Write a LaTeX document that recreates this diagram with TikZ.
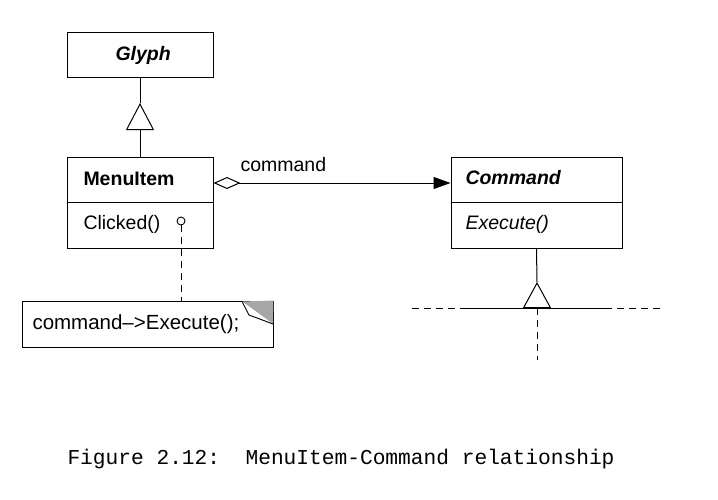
\documentclass[tikz,border=0pt]{standalone}
\usepackage{fontspec}
\setmainfont{Liberation Sans}
\newfontfamily\capfont{Liberation Mono}
\usepackage{tikz}
\usetikzlibrary{arrows.meta}
\usetikzlibrary{calc}

\begin{document}
\begin{tikzpicture}[x=1pt,y=-1pt,line width=1pt,
    classbox/.style={draw,rectangle,inner sep=0pt},
    label/.style={anchor=west,inner sep=0pt,font=\fontsize{19.5}{22}\selectfont},
    dashline/.style={dash pattern=on 7pt off 5pt}]

          \useasboundingbox (0,0) rectangle (718,499); %全体の大きさ

          \node[classbox,minimum width=146pt,minimum height=45pt] (glyph) at (140,54.5) {}; %Glyph
          \node[classbox,minimum width=146pt,minimum height=91pt] (menuitem) at (140,202.5) {}; %MenuItem
          \node[classbox,minimum width=171pt,minimum height=91pt] (command) at (536.5,202.5) {}; %Command
          \node[classbox,minimum width=251pt,minimum height=46pt] (note) at (147.5,324) {}; %注釈
          \draw (menuitem.west) -- (menuitem.east); %区切り線
          \draw (command.west) -- (command.east); %区切り線

          \node[label,font=\fontsize{19.5}{22}\selectfont\bfseries\itshape] (glyphname) at (115,55) {Glyph};
          \node[label,font=\fontsize{19.5}{22}\selectfont\bfseries] (menuname) at (83,179) {MenuItem};
          \node[label] (clicked) at (83,224) {Clicked()};
          \node[label,font=\fontsize{19.5}{22}\selectfont\bfseries\itshape] (cmdname) at (465,178) {Command};
          \node[label,font=\fontsize{19.5}{22}\selectfont\itshape] (execute) at (465,224) {Execute()};
          \node[label,font=\fontsize{20.5}{22}\selectfont] (notetext) at (32,324) {command–>Execute();};

          \coordinate (gA) at (140,103); %三角形の頂点
          \draw (glyph.south) -- (gA);
          \draw[-{Triangle[open,length=27pt,width=28pt]}] (menuitem.north) -- (gA); %継承

          \draw[{Diamond[open,length=27pt,width=12pt]}-{Triangle[length=17pt,width=12pt]}]
               ([yshift=19.5pt]menuitem.east) -- ([yshift=19.5pt]command.west); %集約
          \node[label] (cmdlabel) at (240,165) {command};

          \node[draw,circle,inner sep=0pt,minimum size=8pt,line width=0.9pt] (dot) at (181,221) {}; %Clicked()の点
          \draw[dashline] (dot.south) -- (dot.south |- note.north); %注釈へ

          \coordinate (fA) at (242,301.5); %折り目
          \coordinate (fB) at (273,324);
          \fill[gray!70] (fA) -- (note.north east) -- (fB) -- cycle;
          \draw[fill=white,line width=0.9pt] (fA) -- (249,315) -- (fB);

          \coordinate (cA) at (537,282); %三角形の頂点
          \coordinate (cB) at (537,308); %三角形の底辺
          \draw (command.south) -- (cA);
          \draw[-{Triangle[open,length=26pt,width=28pt]}] (cB) -- (cA); %継承
          \coordinate (hL) at (412,308); %横線左端
          \coordinate (hl) at (463,308);
          \coordinate (hr) at (605,308);
          \coordinate (hR) at (660,308); %横線右端
          \coordinate (vB) at (537,360); %縦線下端
          \draw (hl) -- (hr);
          \draw[dashline] (hL) -- (hl);
          \draw[dashline] (hr) -- (hR);
          \draw[dashline] (cB) -- (vB);

          \node[anchor=west,inner sep=0pt,font=\capfont\fontsize{21.2}{24}\selectfont] (caption) at (67,459)
               {Figure 2.12:\ \ MenuItem-Command relationship};

        \end{tikzpicture}
\end{document}
